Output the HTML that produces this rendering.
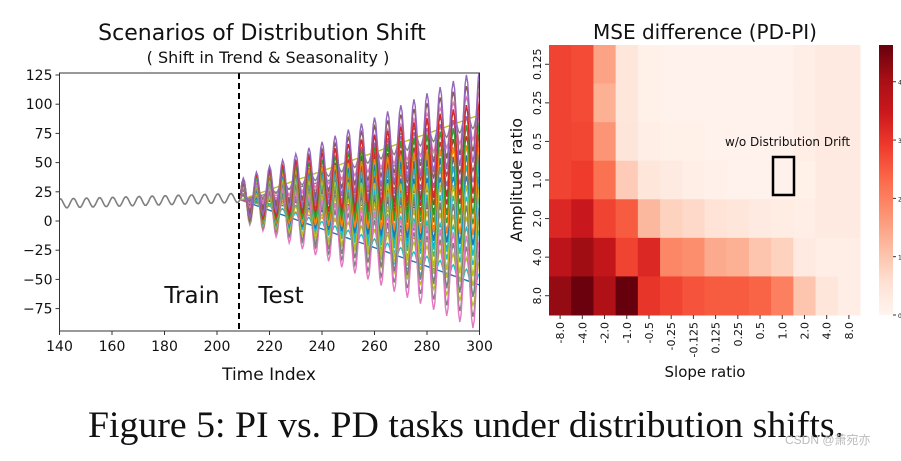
<!DOCTYPE html>
<html><head><meta charset="utf-8"><style>
body{margin:0;background:#fff;width:901px;height:456px;overflow:hidden}
svg text{font-family:"DejaVu Sans","Liberation Sans",sans-serif;fill:#111}
</style></head><body>
<svg id="s" width="901" height="456" xmlns="http://www.w3.org/2000/svg">
<g id="left"></g>
<g id="right"></g>
<text x="466" y="437" text-anchor="middle" textLength="756" lengthAdjust="spacingAndGlyphs" style="font-family:'Liberation Serif',serif;font-size:37px">Figure 5: PI vs. PD tasks under distribution shifts.</text>
<text x="785" y="444" style="font-family:'Liberation Sans','Noto Sans CJK SC',sans-serif;font-size:12px;fill:#bbb">CSDN @萧宛亦</text>
</svg>
<script>
// ----- Left chart data -----
const xTicks=[140,160,180,200,220,240,260,280,300];
const yTicks=[125,100,75,50,25,0,-25,-50,-75];
const trendSlopes=[-0.8,-0.5,-0.3,-0.1,0,0.1,0.3,0.5,0.8];
const ampScales=[0,0.2,0.4,0.6,0.8];
const seriesColors=["#1f77b4","#ff7f0e","#2ca02c","#d62728","#9467bd","#8c564b","#e377c2","#7f7f7f","#bcbd22","#17becf"];
// ----- Heatmap data -----
const slopeLabels=["-8.0","-4.0","-2.0","-1.0","-0.5","-0.25","-0.125","0.125","0.25","0.5","1.0","2.0","4.0","8.0"];
const ampLabels=["0.125","0.25","0.5","1.0","2.0","4.0","8.0"];
const mseRow0=[2.8,2.7,1.5,0.4,0.15,0.1,0.1,0.1,0.1,0.1,0.1,0.2,0.3,0.3];
const mseRow1=[2.8,2.7,1.3,0.4,0.15,0.1,0.1,0.1,0.1,0.1,0.1,0.2,0.3,0.3];
const mseRow2=[2.8,2.75,1.7,0.45,0.2,0.15,0.15,0.1,0.1,0.1,0.1,0.2,0.3,0.3];
const mseRow3=[2.8,2.9,2.2,0.9,0.4,0.3,0.2,0.12,0.1,0.1,0.1,0.15,0.3,0.3];
const mseRow4=[3.2,3.5,2.8,2.5,1.2,0.8,0.7,0.5,0.4,0.3,0.25,0.2,0.3,0.3];
const mseRow5=[3.7,4.1,3.6,2.8,3.2,1.9,1.8,1.4,1.3,1.0,0.8,0.3,0.2,0.2];
const mseRow6=[4.2,4.6,3.9,4.7,3.0,2.8,2.6,2.5,2.5,2.4,2.0,1.0,0.4,0.2];
const mseRows=[mseRow0,mseRow1,mseRow2,mseRow3,mseRow4,mseRow5,mseRow6];
const cbarTicks=[0,1,2,3,4];

const NS="http://www.w3.org/2000/svg";
function mk(tag,attrs,parent){const e=document.createElementNS(NS,tag);for(const k in attrs)e.setAttribute(k,attrs[k]);parent.appendChild(e);return e;}
function txt(s,attrs,parent){const e=mk('text',attrs,parent);e.textContent=s;return e;}

// Left chart
const L=document.getElementById('left');
const px0=59.5,px1=479.5,py0=73,py1=331;
const X=t=>px0+(t-140)*(px1-px0)/160;
const Y=v=>221-v*1.168;
const clip=mk('clipPath',{id:'cl'},L);mk('rect',{x:px0,y:py0,width:px1-px0,height:py1-py0},clip);
const lg=mk('g',{'clip-path':'url(#cl)'},L);
let d='';for(let t=140;t<=209;t+=0.5){const v=15+(t-140)*0.07+4*Math.sin((t-140)*2*Math.PI/5+1.2);d+=(d?'L':'M')+X(t).toFixed(1)+' '+Y(v).toFixed(1);}
const tr=mk('path',{d:d,fill:'none',stroke:'#7f7f7f','stroke-width':1.6},lg);


let ci=0;
for(const a of ampScales){for(const s of trendSlopes){
 let p='';for(let t=209;t<=300;t+=0.5){const k=t-209;const v=18+s*k+a*(22+0.3*k)*Math.sin(k*2*Math.PI/5+0.3);p+=(p?'L':'M')+X(t).toFixed(1)+' '+Y(v).toFixed(1);}
 const e=mk('path',{d:p,fill:'none',stroke:seriesColors[ci%10],'stroke-width':1.4},lg);
 
 
 ci++;}}
const dl=mk('line',{x1:239,x2:239,y1:py0,y2:py1,stroke:'#000','stroke-width':2,'stroke-dasharray':'6,4'},L);


mk('rect',{x:px0,y:py0,width:px1-px0,height:py1-py0,fill:'none',stroke:'#333','stroke-width':1},L);
for(const t of xTicks){mk('line',{x1:X(t),x2:X(t),y1:py1,y2:py1+4,stroke:'#333'},L);
 const e=txt(String(t),{x:X(t),y:py1+20,'text-anchor':'middle','font-size':14},L);
 }
for(const v of yTicks){mk('line',{x1:px0-4,x2:px0,y1:Y(v),y2:Y(v),stroke:'#333'},L);
 const e=txt(String(v).replace('-','\u2212'),{x:px0-7,y:Y(v)+5,'text-anchor':'end','font-size':14},L);
 }
txt('Scenarios of Distribution Shift',{x:262,y:40,'text-anchor':'middle','font-size':22,},L);
txt('( Shift in Trend & Seasonality )',{x:268,y:63,'text-anchor':'middle','font-size':16,},L);
txt('Time Index',{x:269,y:380,'text-anchor':'middle','font-size':17,},L);
txt('Train',{x:192,y:303,'text-anchor':'middle','font-size':23,},L);
txt('Test',{x:281,y:303,'text-anchor':'middle','font-size':23,},L);

// Heatmap
const R=document.getElementById('right');
const hx0=549,hx1=860,hy0=45,hy1=315,vmax=4.63;
const cw=(hx1-hx0)/slopeLabels.length,rh=(hy1-hy0)/ampLabels.length;
const stops=[[255,245,240],[254,224,210],[252,187,161],[252,146,114],[251,106,74],[239,59,44],[203,24,29],[165,15,21],[103,0,13]];
function cmap(v){let f=Math.max(0,Math.min(1,v/vmax))*8;const i=Math.min(7,Math.floor(f));f-=i;const a=stops[i],b=stops[i+1];return 'rgb('+a.map((c,j)=>Math.round(c+(b[j]-c)*f)).join(',')+')';}
mseRows.forEach((row,r)=>row.forEach((v,c)=>{
 const e=mk('rect',{x:hx0+c*cw,y:hy0+r*rh,width:cw+0.5,height:rh+0.5,fill:cmap(v)},R);
 
 
}));
slopeLabels.forEach((s,c)=>{const x=hx0+(c+0.5)*cw;mk('line',{x1:x,x2:x,y1:hy1,y2:hy1+4,stroke:'#333'},R);
 const e=txt(s,{x:0,y:0,'text-anchor':'end','font-size':11,transform:`translate(${x+4},${hy1+7}) rotate(-90)`},R);
 });
ampLabels.forEach((s,r)=>{const y=hy0+(r+0.5)*rh;mk('line',{x1:hx0-4,x2:hx0,y1:y,y2:y,stroke:'#333'},R);
 const e=txt(s,{x:0,y:0,'text-anchor':'middle','font-size':11,transform:`translate(${hx0-8},${y}) rotate(-90)`},R);
 });
txt('MSE difference (PD-PI)',{x:705,y:39,'text-anchor':'middle','font-size':20,},R);
txt('Slope ratio',{x:705,y:377,'text-anchor':'middle','font-size':15,},R);
txt('Amplitude ratio',{x:0,y:0,'text-anchor':'middle','font-size':16,transform:'translate(522,180) rotate(-90)',},R);
txt('w/o Distribution Drift',{x:725,y:146,'font-size':12,},R);
mk('rect',{x:773,y:157,width:21,height:38,fill:'none',stroke:'#000','stroke-width':2.5,},R);
const gd=mk('linearGradient',{id:'cg',x1:0,y1:1,x2:0,y2:0},mk('defs',{},R));
stops.forEach((c,i)=>mk('stop',{offset:i/8,'stop-color':`rgb(${c.join(',')})`},gd));
mk('rect',{x:879,y:hy0,width:14,height:hy1-hy0,fill:'url(#cg)',},R);
cbarTicks.forEach(v=>{const y=hy1-v*(hy1-hy0)/vmax;mk('line',{x1:893,x2:896,y1:y,y2:y,stroke:'#333'},R);
 const e=txt(String(v),{x:898,y:y+3,'font-size':6},R);
 });
</script>
</body></html>
